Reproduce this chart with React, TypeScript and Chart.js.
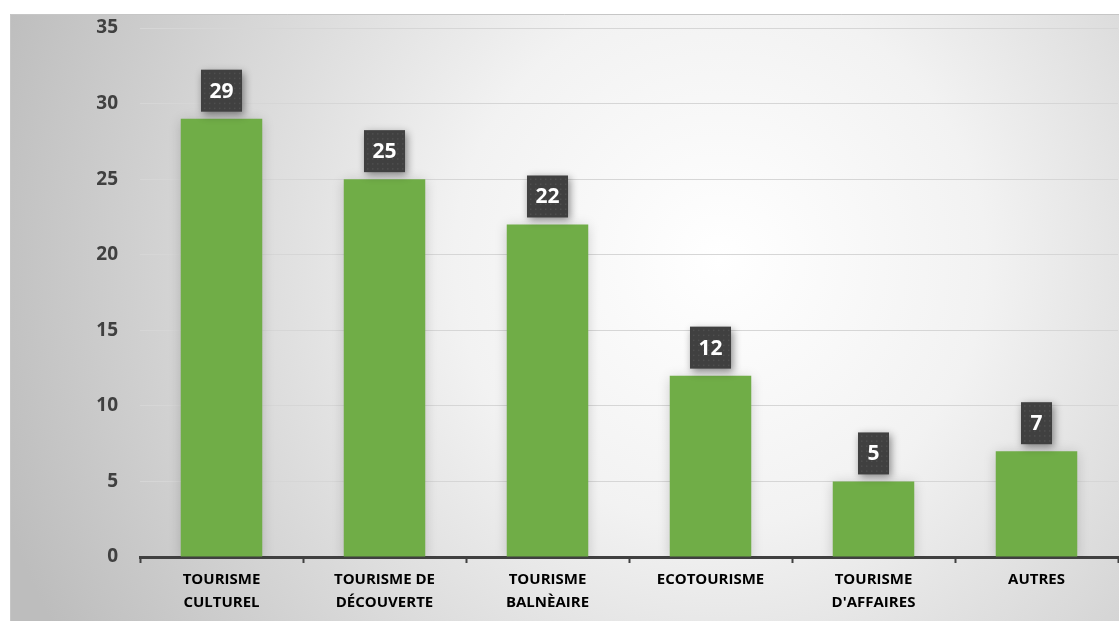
import React, { useEffect, useRef } from "react";
import { Chart, registerables } from "chart.js";

Chart.register(...registerables);

const categories: string[][] = [
  ["TOURISME", "CULTUREL"],
  ["TOURISME DE", "DÉCOUVERTE"],
  ["TOURISME", "BALNÈAIRE"],
  ["ECOTOURISME"],
  ["TOURISME", "D'AFFAIRES"],
  ["AUTRES"],
];
const values: number[] = [29, 25, 22, 12, 5, 7];
const yMax = 35;
const yStep = 5;

const FONT = "'Open Sans', 'DejaVu Sans', sans-serif";

const bgPlugin = {
  id: "bgPlugin",
  beforeDraw(chart: any) {
    const ctx = chart.ctx;
    const x0 = 10, y0 = 14, x1 = chart.width, y1 = 621;
    ctx.save();
    const g = ctx.createRadialGradient(720, 260, 0, 720, 260, 760);
    g.addColorStop(0, "#ffffff");
    g.addColorStop(0.35, "#f2f2f2");
    g.addColorStop(1, "#bdbdbd");
    ctx.fillStyle = g;
    ctx.fillRect(x0, y0, x1 - x0, y1 - y0);
    ctx.strokeStyle = "#c6c6c6";
    ctx.lineWidth = 1;
    ctx.beginPath();
    ctx.moveTo(x0 + 0.5, y1);
    ctx.lineTo(x0 + 0.5, y0 + 0.5);
    ctx.lineTo(x1, y0 + 0.5);
    ctx.stroke();
    ctx.restore();
  },
  beforeDatasetsDraw(chart: any) {
    const ctx = chart.ctx;
    ctx.save();
    ctx.shadowColor = "rgba(0,0,0,0.18)";
    ctx.shadowBlur = 12;
    ctx.shadowOffsetX = 0;
    ctx.shadowOffsetY = 2;
  },
  afterDatasetsDraw(chart: any) {
    chart.ctx.restore();
    const ctx = chart.ctx;
    const meta = chart.getDatasetMeta(0);
    ctx.save();
    ctx.font = `bold 21px ${FONT}`;
    ctx.textAlign = "center";
    ctx.textBaseline = "middle";
    meta.data.forEach((bar: any, i: number) => {
      const txt = String(values[i]);
      const tw = ctx.measureText(txt).width;
      const w = Math.max(tw + 17, 31);
      const h = 42;
      const cx = bar.x;
      const bottom = bar.y - 7;
      const left = cx - w / 2;
      const top = bottom - h;
      ctx.save();
      ctx.shadowColor = "rgba(0,0,0,0.45)";
      ctx.shadowBlur = 8;
      ctx.shadowOffsetX = 2;
      ctx.shadowOffsetY = 3;
      ctx.fillStyle = "#404040";
      ctx.fillRect(left, top, w, h);
      ctx.restore();
      ctx.fillStyle = "rgba(255,255,255,0.08)";
      for (let yy = top + 3; yy < bottom - 1; yy += 5) {
        for (let xx = left + 3; xx < left + w - 1; xx += 5) {
          ctx.fillRect(xx, yy, 1.5, 1.5);
        }
      }
      ctx.fillStyle = "#ffffff";
      ctx.fillText(txt, cx, top + h / 2 + 1);
    });
    ctx.restore();
  },
};

export default function App() {
  const ref = useRef<HTMLCanvasElement | null>(null);
  useEffect(() => {
    if (!ref.current) return;
    const chart = new Chart(ref.current, {
      type: "bar",
      data: {
        labels: categories,
        datasets: [
          {
            data: values,
            backgroundColor: "#70ad47",
            borderWidth: 0,
            barPercentage: 0.5,
            categoryPercentage: 1,
          },
        ],
      },
      plugins: [bgPlugin],
      options: {
        responsive: false,
        animation: false,
        maintainAspectRatio: false,
        layout: { padding: { top: 28, right: 1, bottom: 0, left: 0 } },
        plugins: {
          legend: { display: false },
          tooltip: { enabled: false },
          title: { display: false },
        },
        scales: {
          x: {
            grid: {
              display: true,
              offset: true,
              drawOnChartArea: false,
              drawTicks: true,
              tickLength: 6,
              tickWidth: 2,
              color: "#404040",
            },
            border: { display: true, color: "#404040", width: 3 },
            ticks: {
              color: "#000000",
              padding: 5,
              maxRotation: 0,
              autoSkip: false,
              font: { family: FONT, size: 15, weight: "bold", lineHeight: 1.55 },
            },
            afterFit(scale: any) {
              scale.height = 66;
            },
          },
          y: {
            min: 0,
            max: yMax,
            grid: {
              color: "#d6d6d6",
              lineWidth: 1,
              drawTicks: false,
            },
            border: { display: false },
            ticks: {
              stepSize: yStep,
              color: "#404040",
              padding: 22,
              font: { family: FONT, size: 19, weight: "bold" },
            },
            afterFit(scale: any) {
              scale.width = 140;
              scale.paddingTop = 0;
              scale.paddingBottom = 0;
            },
          },
        },
      },
    });
    return () => chart.destroy();
  }, []);
  return (
    <div style={{ position: "absolute", left: 0, top: 0, width: 1119, height: 623 }}>
      <canvas ref={ref} width={1119} height={623} style={{ display: "block" }} />
    </div>
  );
}
